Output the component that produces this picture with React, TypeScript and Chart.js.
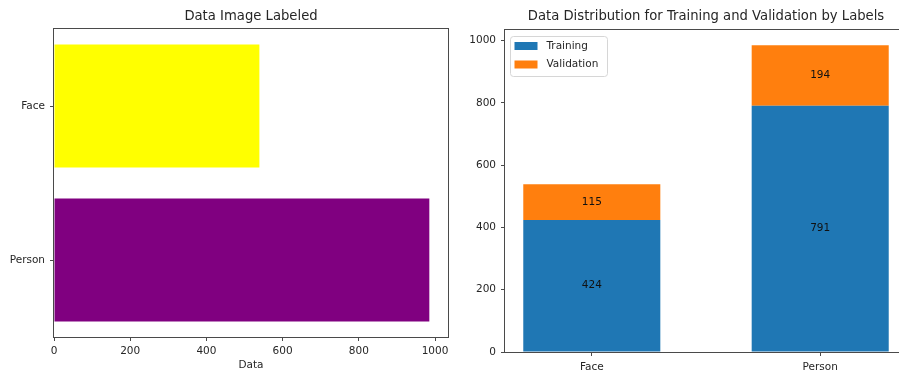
import React, { useEffect, useRef } from 'react';
import { Chart, registerables } from 'chart.js';

Chart.register(...registerables);

// ---- data ----
const categories = ['Face', 'Person'];
const labeledTotals = [539, 985];
const trainingCounts = [424, 791];
const validationCounts = [115, 194];
const labeledColors = ['#ffff00', '#800080'];
const leftXTicks = [0, 200, 400, 600, 800, 1000];
const rightYTicks = [0, 200, 400, 600, 800, 1000];
const leftTitle = 'Data Image Labeled';
const leftXTitle = 'Data';
const rightTitle = 'Data Distribution for Training and Validation by Labels';
const seriesNames = ['Training', 'Validation'];
const seriesColors = ['#1f77b4', '#ff7f0e'];

const FONT = "'DejaVu Sans', sans-serif";
const INK = '#262626';
const SPINE = '#4a4a4a';
const TICK_SIZE = 10.5;
const TITLE_SIZE = 13.2;

const framePlugin = {
  id: 'frame',
  afterDraw(chart: any) {
    const { ctx, chartArea: a } = chart;
    ctx.save();
    ctx.strokeStyle = SPINE;
    ctx.lineWidth = 1;
    ctx.strokeRect(Math.round(a.left) - 0.5, Math.round(a.top) - 0.5, Math.round(a.right - a.left) + 1, Math.round(a.bottom - a.top) + 1);
    ctx.restore();
  },
};

const makeTitlePlugin = (text: string) => ({
  id: 'customTitle',
  afterDraw(chart: any) {
    const { ctx, chartArea: a } = chart;
    ctx.save();
    ctx.font = `${TITLE_SIZE}px ${FONT}`;
    ctx.fillStyle = INK;
    ctx.textAlign = 'center';
    ctx.textBaseline = 'middle';
    ctx.fillText(text, (a.left + a.right) / 2, 16.5);
    ctx.restore();
  },
});

const barLabelPlugin = {
  id: 'barLabels',
  afterDatasetsDraw(chart: any) {
    const { ctx } = chart;
    ctx.save();
    ctx.font = `${TICK_SIZE}px ${FONT}`;
    ctx.fillStyle = '#111';
    ctx.textAlign = 'center';
    ctx.textBaseline = 'middle';
    chart.data.datasets.forEach((ds: any, di: number) => {
      const meta = chart.getDatasetMeta(di);
      meta.data.forEach((el: any, i: number) => {
        const { x, y, base } = el.getProps(['x', 'y', 'base'], true);
        ctx.fillText(String(ds.data[i].y), x, (y + base) / 2);
      });
    });
    ctx.restore();
  },
};

const legendPlugin = {
  id: 'insideLegend',
  afterDraw(chart: any) {
    const { ctx, chartArea: a } = chart;
    const bx = Math.round(a.left) + 5.5;
    const by = Math.round(a.top) + 6.5;
    ctx.save();
    ctx.beginPath();
    ctx.roundRect(bx, by, 97, 40, 3);
    ctx.fillStyle = 'rgba(255,255,255,0.8)';
    ctx.fill();
    ctx.strokeStyle = '#d6d6d6';
    ctx.lineWidth = 1;
    ctx.stroke();
    ctx.font = `${TICK_SIZE}px ${FONT}`;
    ctx.textAlign = 'left';
    ctx.textBaseline = 'middle';
    chart.data.datasets.forEach((ds: any, i: number) => {
      const cy = by + 9.5 + i * 18.5;
      ctx.fillStyle = ds.backgroundColor;
      ctx.fillRect(bx + 4, cy - 4, 23, 8);
      ctx.fillStyle = INK;
      ctx.fillText(ds.label, bx + 36, cy);
    });
    ctx.restore();
  },
};

const tickFont = { family: FONT, size: TICK_SIZE };
const gridOpts = { drawOnChartArea: false, drawTicks: true, tickLength: 4, color: SPINE, offset: false };

export default function App() {
  const leftRef = useRef<HTMLCanvasElement>(null);
  const rightRef = useRef<HTMLCanvasElement>(null);

  useEffect(() => {
    const left = new Chart(leftRef.current as HTMLCanvasElement, {
      type: 'bar',
      data: {
        labels: categories,
        datasets: [
          {
            data: labeledTotals,
            backgroundColor: labeledColors,
            borderWidth: 0,
            barPercentage: 0.8,
            categoryPercentage: 1,
          },
        ],
      },
      options: {
        indexAxis: 'y',
        responsive: false,
        animation: false,
        layout: { padding: { top: 29, right: 12, left: 0, bottom: 0 } },
        plugins: { legend: { display: false }, tooltip: { enabled: false }, title: { display: false } },
        scales: {
          x: {
            type: 'linear',
            min: 0,
            max: 1034,
            afterBuildTicks: (s: any) => {
              s.ticks = leftXTicks.map((v) => ({ value: v }));
            },
            ticks: {
              font: tickFont,
              color: INK,
              padding: 4,
              maxRotation: 0,
              autoSkip: false,
              callback: (v: any) => String(v),
            },
            grid: gridOpts,
            border: { display: false },
            title: { display: true, text: leftXTitle, font: tickFont, color: INK, padding: { top: 0, bottom: 2 } },
            afterFit: (s: any) => {
              s.height = 37;
            },
          },
          y: {
            type: 'category',
            offset: true,
            ticks: { font: tickFont, color: INK, padding: 5 },
            grid: gridOpts,
            border: { display: false },
            afterFit: (s: any) => {
              s.width = 54;
            },
          },
        },
      } as any,
      plugins: [framePlugin, makeTitlePlugin(leftTitle)],
    });

    const right = new Chart(rightRef.current as HTMLCanvasElement, {
      type: 'bar',
      data: {
        datasets: [trainingCounts, validationCounts].map((arr, k) => ({
          label: seriesNames[k],
          data: categories.map((_, i) => ({ x: i, y: arr[i] })),
          backgroundColor: seriesColors[k],
          borderWidth: 0,
          barPercentage: 0.6,
          categoryPercentage: 1,
        })),
      },
      options: {
        responsive: false,
        animation: false,
        layout: { padding: { top: 30, right: 13, left: 0, bottom: 0 } },
        plugins: { legend: { display: false }, tooltip: { enabled: false }, title: { display: false } },
        scales: {
          x: {
            type: 'linear',
            stacked: true,
            offset: false,
            min: -0.38,
            max: 1.38,
            afterBuildTicks: (s: any) => {
              s.ticks = categories.map((_, i) => ({ value: i }));
            },
            ticks: {
              font: tickFont,
              color: INK,
              padding: 5,
              maxRotation: 0,
              autoSkip: false,
              callback: (v: any) => categories[Math.round(Number(v))] ?? '',
            },
            grid: gridOpts,
            border: { display: false },
            afterFit: (s: any) => {
              s.height = 22;
            },
          },
          y: {
            type: 'linear',
            stacked: true,
            min: 0,
            max: 1034,
            afterBuildTicks: (s: any) => {
              s.ticks = rightYTicks.map((v) => ({ value: v }));
            },
            ticks: { font: tickFont, color: INK, padding: 5, callback: (v: any) => String(v) },
            grid: gridOpts,
            border: { display: false },
            afterFit: (s: any) => {
              s.width = 45;
            },
          },
        },
      } as any,
      plugins: [framePlugin, makeTitlePlugin(rightTitle), barLabelPlugin, legendPlugin],
    });

    return () => {
      left.destroy();
      right.destroy();
    };
  }, []);

  return (
    <div
      style={{
        position: 'fixed',
        left: 0,
        top: 0,
        width: 899,
        height: 374,
        overflow: 'hidden',
        background: '#fff',
      }}
    >
      <canvas
        ref={leftRef}
        width={460}
        height={374}
        style={{ position: 'absolute', left: 0, top: 0, display: 'block' }}
      />
      <canvas
        ref={rightRef}
        width={460}
        height={374}
        style={{ position: 'absolute', left: 460, top: 0, display: 'block' }}
      />
    </div>
  );
}
